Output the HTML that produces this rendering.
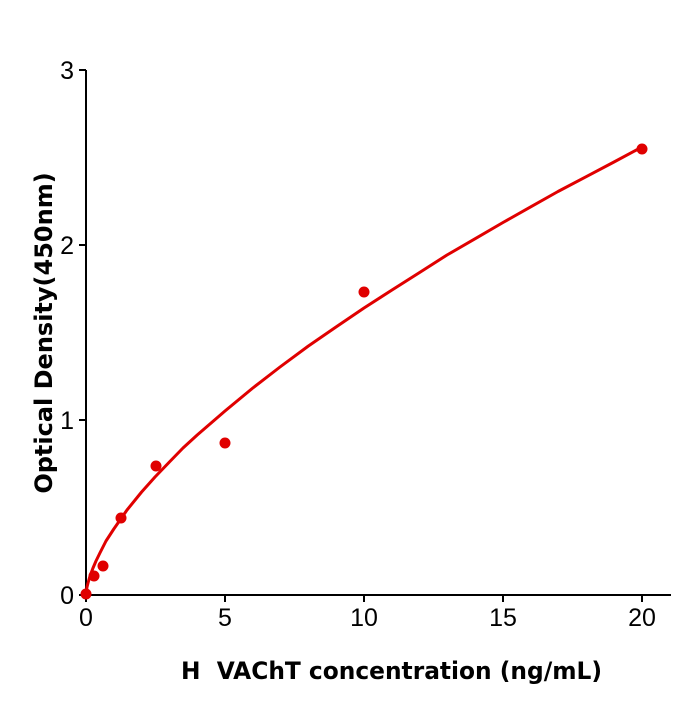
<!DOCTYPE html>
<html><head><meta charset="utf-8"><style>body{margin:0;background:#fff}</style></head>
<body>
<svg width="700" height="700" xmlns="http://www.w3.org/2000/svg" font-family="'DejaVu Sans', 'Liberation Sans', sans-serif">
<rect width="700" height="700" fill="#fff"/>
<g stroke="#000" stroke-width="2" fill="none">
<line x1="86" y1="70" x2="86" y2="596"/>
<line x1="85" y1="595" x2="671" y2="595"/>
<line x1="79" y1="595" x2="86" y2="595"/>
<line x1="79" y1="420" x2="86" y2="420"/>
<line x1="79" y1="245" x2="86" y2="245"/>
<line x1="79" y1="70" x2="86" y2="70"/>
<line x1="86" y1="595" x2="86" y2="602"/>
<line x1="225" y1="595" x2="225" y2="602"/>
<line x1="364" y1="595" x2="364" y2="602"/>
<line x1="503" y1="595" x2="503" y2="602"/>
<line x1="642" y1="595" x2="642" y2="602"/>
</g>
<g font-size="25" fill="#000" font-family="'Liberation Sans', sans-serif">
<text x="74" y="604" text-anchor="end">0</text>
<text x="74" y="429" text-anchor="end">1</text>
<text x="74" y="254" text-anchor="end">2</text>
<text x="74" y="79" text-anchor="end">3</text>
<text x="86" y="626" text-anchor="middle">0</text>
<text x="225" y="626" text-anchor="middle">5</text>
<text x="364" y="626" text-anchor="middle">10</text>
<text x="503" y="626" text-anchor="middle">15</text>
<text x="642" y="626" text-anchor="middle">20</text>
</g>
<text x="181" y="679" font-size="24" font-weight="bold" xml:space="preserve" textLength="421" lengthAdjust="spacingAndGlyphs">H  VAChT concentration (ng/mL)</text>
<text transform="translate(52,333) rotate(-90)" text-anchor="middle" font-size="24" font-weight="bold">Optical Density(450nm)</text>
<polyline fill="none" stroke="#e00000" stroke-width="3" stroke-linejoin="round" points="86,595 87,587 88,583 90,576 93,568 96,561 99.9,553 106,541 113.8,529 127,510 141.6,492 155,477 169.4,462 183,448 197.2,435 225,411 252.8,388 280,367 308.4,346 336,327 364,308 392,290 419.6,272.5 447,255 475.2,238.7 503,222.5 530.8,206.8 558,191.5 586.4,176.6 614,162 642,147"/>
<g fill="#e00000">
<circle cx="86" cy="594" r="5.5"/>
<circle cx="94" cy="576" r="5.5"/>
<circle cx="103" cy="566" r="5.5"/>
<circle cx="121" cy="518" r="5.5"/>
<circle cx="156" cy="466" r="5.5"/>
<circle cx="225" cy="443" r="5.5"/>
<circle cx="364" cy="292" r="5.5"/>
<circle cx="642" cy="149" r="5.5"/>
</g>
</svg>
</body></html>
